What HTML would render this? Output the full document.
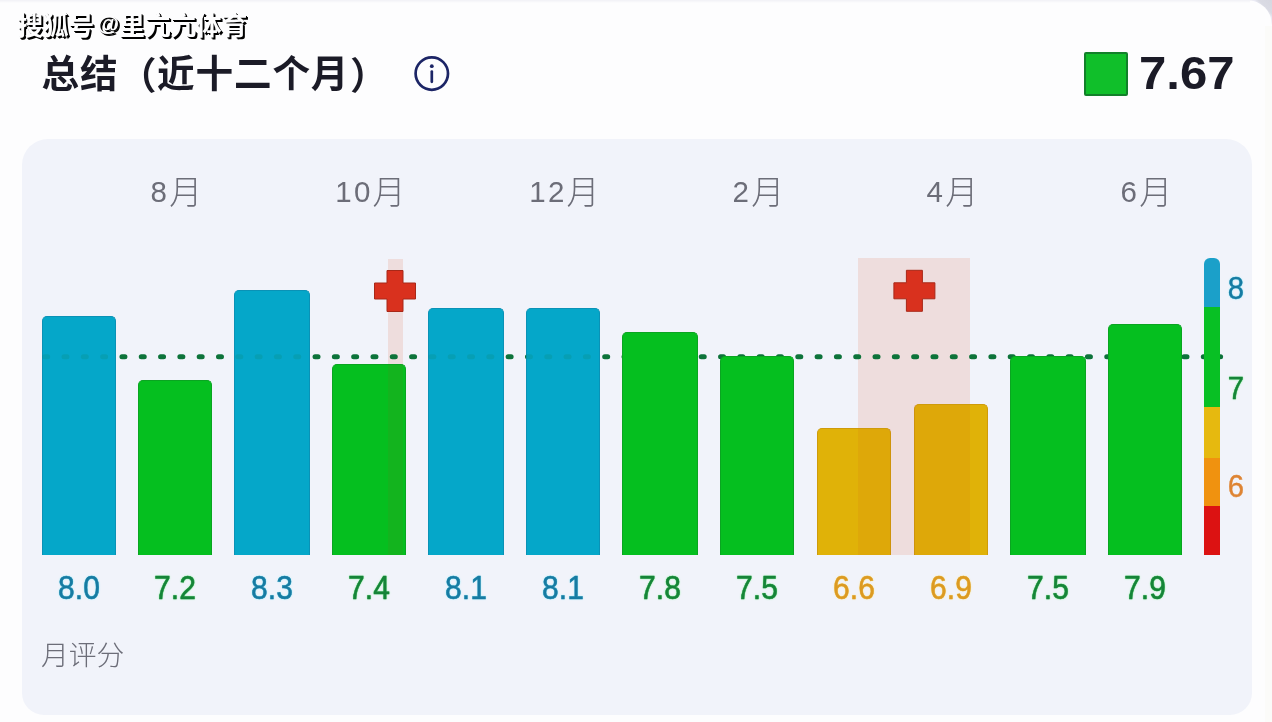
<!DOCTYPE html>
<html lang="zh-CN">
<head>
<meta charset="utf-8">
<title>总结（近十二个月）</title>
<style>
  html, body { margin: 0; padding: 0; }
  body {
    width: 1272px; height: 722px; overflow: hidden; position: relative;
    background: #fdfdfe;
    font-family: "Liberation Sans", "Noto Sans CJK SC", sans-serif;
  }
  .topband { position: absolute; left: 0; top: 0; width: 1250px; height: 3px; background: linear-gradient(#f1f1f6, #fdfdfe); }
  .corner { position: absolute; left: 1240px; top: 0; width: 32px; height: 30px; background: linear-gradient(225deg, #d6d7e0 0, #dadbe4 22%, #ececf6 30%, #dcdde6 38%, #e2e3ec 100%); }
  .outer {
    position: absolute; left: 1200px; top: 0; width: 72px; height: 60px;
    background: #fdfdfe; border-radius: 0 25px 0 0;
  }
  .rightstrip { position: absolute; left: 1265px; top: 26px; width: 7px; height: 700px; background: #fbfbf9; }
  .card {
    position: absolute; left: 22px; top: 139px; width: 1230px; height: 576px;
    background: #f1f3fa; border-radius: 26px 26px 22px 22px;
  }
  .wm {
    position: absolute; left: 17.4px; top: 9.2px; font-size: 25.6px; line-height: 30px;
    color: #fdfdfe; white-space: nowrap; letter-spacing: 0px; font-weight: 700;
    text-shadow: 1px 1px 0 #000, 2px 2px 0.5px #000;
    font-family: "Liberation Sans", "Noto Sans CJK SC", sans-serif;
  }
  .wm span { display: inline-block; width: 25.1px; font-size: 22.5px; text-align: center; vertical-align: 3.6px; position: relative; left: 1.6px; }
  .title {
    position: absolute; left: 41.5px; top: 46px; font-size: 37.6px; letter-spacing: 0.9px; line-height: 56px;
    font-weight: 700; color: #1b1b27; white-space: nowrap;
    font-family: "Liberation Sans", "Noto Sans CJK SC", sans-serif;
  }
  .title span { position: relative; top: 2px; left: 0.6px; }
  .avgbox {
    position: absolute; left: 1084px; top: 52px; width: 44px; height: 44px;
    background: #10bf2a; border: 2px solid #12802a; border-radius: 2px; box-sizing: border-box;
  }
  .avg {
    position: absolute; left: 1139px; top: 46.5px; font-size: 47px; line-height: 52px;
    font-weight: 700; color: #1b1b27; white-space: nowrap;
    transform: scaleX(1.045); transform-origin: 0 0;
  }
  .month {
    position: absolute; top: 173.3px; width: 120px; margin-left: -58.6px; text-align: center;
    font-size: 33px; line-height: 40px; color: #6c6d78; font-weight: 300; white-space: nowrap;
    font-family: "Liberation Sans", "Noto Sans CJK SC", sans-serif;
  }
  .month span { font-size: 29.5px; letter-spacing: 2.3px; position: relative; top: -2.2px; }
  .bar { position: absolute; border-radius: 5px 5px 0 0; box-sizing: border-box; border: 1px solid; border-bottom: 0; }
  .b { background: #05a7c9; border-color: #0a92b6; }
  .g { background: #05bf1f; border-color: #0aa521; }
  .y { background: #e0b208; border-color: #cf9b0a; }
  .ov { position: absolute; background: rgba(200, 60, 30, 0.075); }
  .val {
    position: absolute; top: 568px; width: 100px; margin-left: -50px; text-align: center;
    font-size: 32.3px; line-height: 40px; white-space: nowrap;
    transform: scaleX(0.93); -webkit-text-stroke: 0.5px currentColor;
  }
  .vb { color: #177ba2; text-shadow: 0 0 2px rgba(140,240,255,0.9), 0 0 1px rgba(140,240,255,0.9); }
  .vg { color: #168438; text-shadow: 0 0 2px rgba(120,245,140,0.9), 0 0 1px rgba(120,245,140,0.9); }
  .vy { color: #dc9a22; text-shadow: 0 0 2px rgba(255,235,140,0.9), 0 0 1px rgba(255,235,140,0.9); }
  .pink { position: absolute; background: rgba(225, 110, 80, 0.17); }
  .foot {
    position: absolute; left: 41px; top: 637px; font-size: 27.8px; line-height: 38px;
    color: #6c6d78; font-weight: 300; white-space: nowrap;
    font-family: "Liberation Sans", "Noto Sans CJK SC", sans-serif;
  }
  .scale { position: absolute; left: 1204px; width: 16px; }
  .sl {
    position: absolute; left: 1224px; width: 24px; text-align: center;
    font-size: 31.5px; line-height: 32px;
    transform: scaleX(0.93); -webkit-text-stroke: 0.4px currentColor;
  }
  svg { position: absolute; left: 0; top: 0; }
</style>
</head>
<body>
<div class="corner"></div>
<div class="outer"></div>
<div class="topband"></div>
<div class="rightstrip"></div>
<div class="card"></div>

<div class="wm">搜狐号<span>@</span>里亢亢体育</div>
<div class="title">总结<span>（</span>近十二个月<span>）</span></div>
<div class="avgbox"></div>
<div class="avg">7.67</div>

<div class="month" style="left:175px"><span>8</span>月</div>
<div class="month" style="left:369px"><span>10</span>月</div>
<div class="month" style="left:563px"><span>12</span>月</div>
<div class="month" style="left:757px"><span>2</span>月</div>
<div class="month" style="left:951px"><span>4</span>月</div>
<div class="month" style="left:1145px"><span>6</span>月</div>

<!-- injury bands -->
<div class="pink" style="left:388px;top:259px;width:15px;height:296px"></div>
<div class="pink" style="left:858px;top:258px;width:112px;height:297px"></div>

<!-- dotted average line (under bars) -->
<svg width="1272" height="722" viewBox="0 0 1272 722">
  <line x1="44.7" y1="356.8" x2="1221.5" y2="356.8" stroke="#0d733a" stroke-width="5" stroke-linecap="round" stroke-dasharray="3 16.31"/>
  <circle cx="1220.6" cy="356.8" r="2.5" fill="#0d733a"/>
</svg>

<!-- bars -->
<div class="bar b" style="left:42px;top:316px;width:74px;height:239px"></div>
<div class="bar g" style="left:138px;top:380px;width:74px;height:175px"></div>
<div class="bar b" style="left:234px;top:290px;width:76px;height:265px"></div>
<div class="bar g" style="left:332px;top:364px;width:74px;height:191px"></div>
<div class="bar b" style="left:428px;top:308px;width:76px;height:247px"></div>
<div class="bar b" style="left:526px;top:308px;width:74px;height:247px"></div>
<div class="bar g" style="left:622px;top:332px;width:76px;height:223px"></div>
<div class="bar g" style="left:720px;top:356px;width:74px;height:199px"></div>
<div class="bar y" style="left:817px;top:428px;width:74px;height:127px"></div>
<div class="bar y" style="left:914px;top:404px;width:74px;height:151px"></div>
<div class="bar g" style="left:1010px;top:356px;width:76px;height:199px"></div>
<div class="bar g" style="left:1108px;top:324px;width:74px;height:231px"></div>

<!-- injury overlays on bars -->
<div class="ov" style="left:388px;top:365px;width:15px;height:190px"></div>
<div class="ov" style="left:858px;top:429px;width:33px;height:126px"></div>
<div class="ov" style="left:914px;top:405px;width:56px;height:150px"></div>
<svg width="1272" height="722" viewBox="0 0 1272 722" style="opacity:0.14">
  <defs><clipPath id="bluebars"><rect x="42" y="340" width="74" height="40"/><rect x="234" y="340" width="76" height="40"/><rect x="428" y="340" width="76" height="40"/><rect x="526" y="340" width="74" height="40"/></clipPath></defs>
  <line x1="44.7" y1="356.8" x2="1222.3" y2="356.8" stroke="#0d733a" stroke-width="5" stroke-linecap="round" stroke-dasharray="3 16.31" clip-path="url(#bluebars)"/>
</svg>

<!-- colour scale -->
<div class="scale" style="top:258px;height:49px;background:#1ba0c9;border-radius:6px 6px 0 0"></div>
<div class="scale" style="top:307px;height:100px;background:#08c024"></div>
<div class="scale" style="top:407px;height:51px;background:#e6b90f"></div>
<div class="scale" style="top:458px;height:48px;background:#f0920f"></div>
<div class="scale" style="top:506px;height:49px;background:#dc1212"></div>
<div class="sl vb" style="top:272px">8</div>
<div class="sl vg" style="top:372px">7</div>
<div class="sl" style="top:470px;color:#de8433">6</div>

<!-- icons -->
<svg width="1272" height="722" viewBox="0 0 1272 722">
  <circle cx="431.8" cy="73.6" r="16.2" fill="none" stroke="#1c2566" stroke-width="2.7"/>
  <circle cx="431.8" cy="66.2" r="1.9" fill="#1c2566"/>
  <line x1="431.8" y1="71.6" x2="431.8" y2="81.8" stroke="#1c2566" stroke-width="2.7" stroke-linecap="round"/>
  <path d="M387 270.5h16v12.5h12.5v16h-12.5v12.5h-16v-12.5h-12.5v-16h12.5z" fill="#d9311e" stroke="#a82818" stroke-width="1"/>
  <path d="M906.4 270.3h16v12.5h12.5v16h-12.5v12.5h-16v-12.5h-12.5v-16h12.5z" fill="#d9311e" stroke="#a82818" stroke-width="1"/>
</svg>

<!-- values -->
<div class="val vb" style="left:79px">8.0</div>
<div class="val vg" style="left:175px">7.2</div>
<div class="val vb" style="left:272px">8.3</div>
<div class="val vg" style="left:369px">7.4</div>
<div class="val vb" style="left:466px">8.1</div>
<div class="val vb" style="left:563px">8.1</div>
<div class="val vg" style="left:660px">7.8</div>
<div class="val vg" style="left:757px">7.5</div>
<div class="val vy" style="left:854px">6.6</div>
<div class="val vy" style="left:951px">6.9</div>
<div class="val vg" style="left:1048px">7.5</div>
<div class="val vg" style="left:1145px">7.9</div>

<div class="foot">月评分</div>
</body>
</html>
